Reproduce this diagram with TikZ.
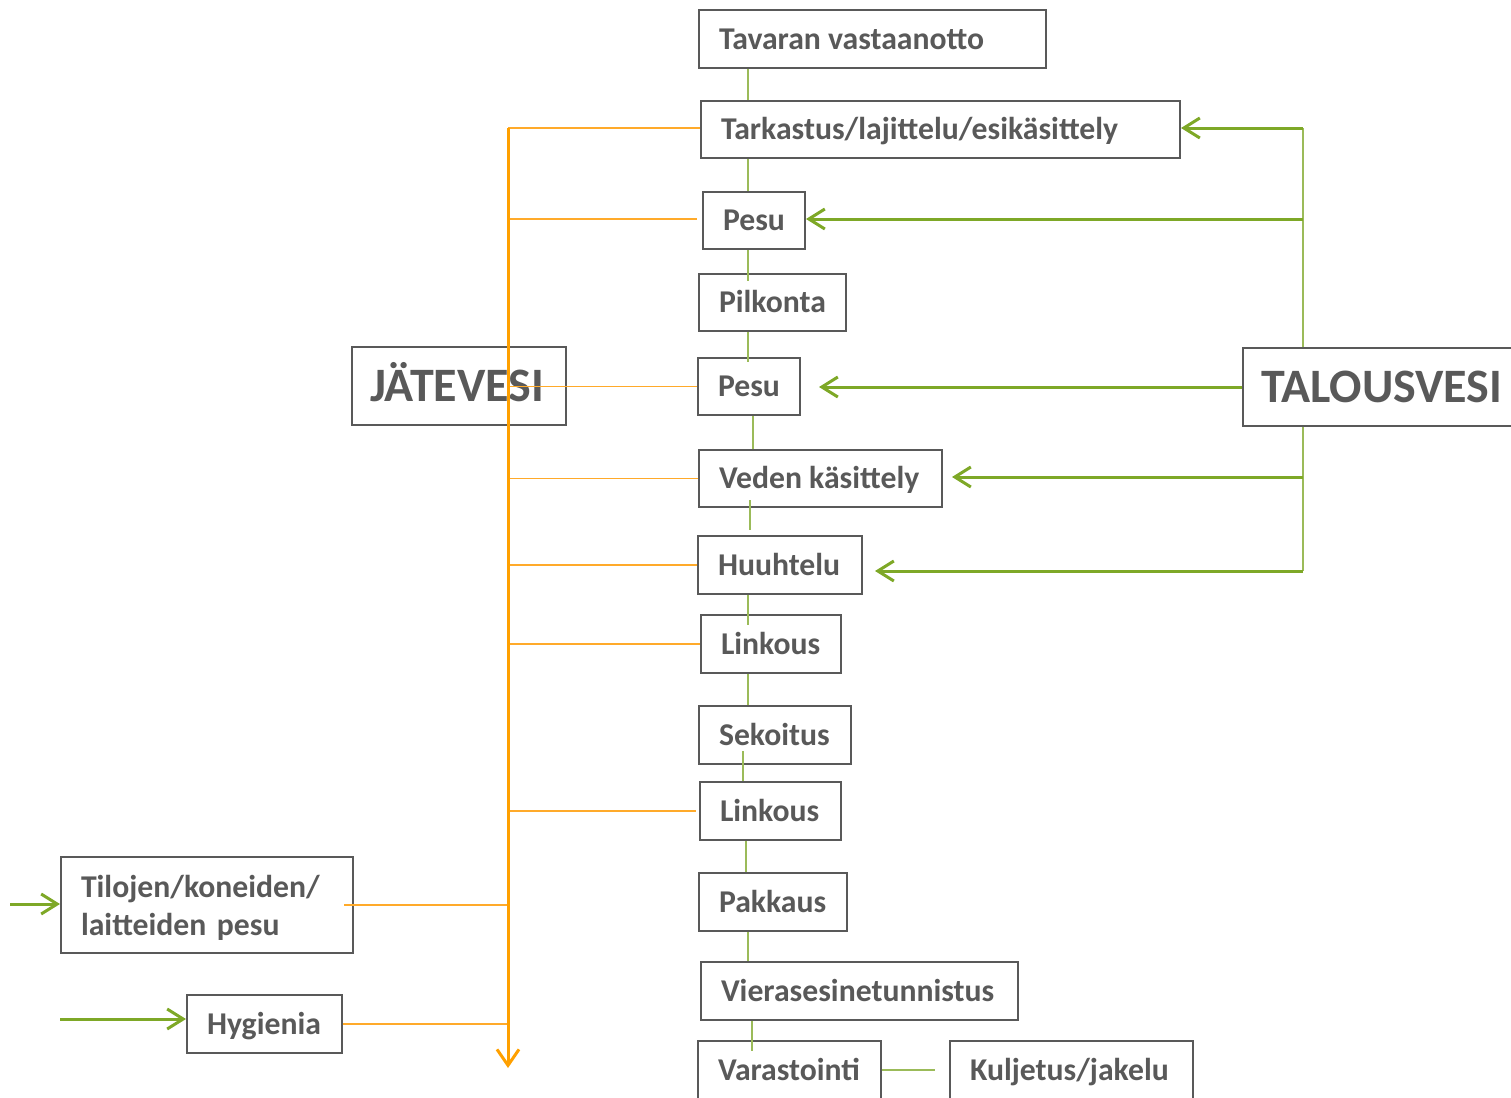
\documentclass[tikz,border=0pt]{standalone}
\usepackage{fontspec}
\setmainfont{Carlito}
\usetikzlibrary{arrows.meta,calc}
\definecolor{bgray}{HTML}{595959}
\definecolor{gthick}{HTML}{7EA827}
\definecolor{gthin}{HTML}{9BBB59}
\definecolor{obus}{HTML}{FFA000}
\definecolor{othin}{HTML}{FFAA2A}
\newcommand{\tx}[2]{\makebox[#1][l]{#2}}
\tikzset{
  bxbase/.style={draw=bgray, line width=2pt, text=bgray, font=\bfseries\fontsize{31.7}{38}\selectfont,
    anchor=north west, inner xsep=20pt, inner ysep=0pt, align=left},
  bx/.style={bxbase, text height=20.4pt, text depth=0pt},
  bigbx/.style={bxbase, inner xsep=18pt, font=\bfseries\fontsize{48}{54}\selectfont, text height=31pt, text depth=0pt},
  chain/.style={draw=gthin, line width=1.5pt},
  gbus/.style={draw=gthin, line width=1.6pt},
  garrow/.style={draw=gthick, line width=3pt, -{Straight Barb[length=16pt,width=20pt]}},
  obusline/.style={draw=obus, line width=3pt, -{Straight Barb[length=16pt,width=22pt]}},
  oline/.style={draw=othin, line width=1.5pt}
}
\begin{document}
\begin{tikzpicture}[x=1pt,y=-1pt]
\useasboundingbox (0,0) rectangle (1511,1097);
\clip (0,0) rectangle (1511,1097);
% process chain
\node[bx, minimum height=58pt] (tav) at (698,9) {\tx{307pt}{Tavaran vastaanotto}};
\node[bx, minimum height=57pt] (tar) at (700,100) {\tx{439pt}{Tarkastus/lajittelu/esikäsittely}};
\node[bx, minimum height=57pt] (pesua) at (702,191) {\tx{62pt}{Pesu}};
\node[bx, minimum height=57pt] (pil) at (698,273) {\tx{107pt}{Pilkonta}};
\node[bx, minimum height=57pt] (pesub) at (697,357) {\tx{62pt}{Pesu}};
\node[bx, minimum height=57pt] (ved) at (698,449) {\tx{203pt}{Veden käsittely}};
\node[bx, minimum height=58pt] (huu) at (697,535) {\tx{124pt}{Huuhtelu}};
\node[bx, minimum height=58pt] (lina) at (700,614) {\tx{100pt}{Linkous}};
\node[bx, minimum height=58pt] (sek) at (698,705) {\tx{112pt}{Sekoitus}};
\node[bx, minimum height=58pt] (linb) at (699,781) {\tx{101pt}{Linkous}};
\node[bx, minimum height=58pt] (pak) at (698,872) {\tx{108pt}{Pakkaus}};
\node[bx, minimum height=58pt] (vie) at (700,961) {\tx{277pt}{Vierasesinetunnistus}};
\node[bx, minimum height=58pt] (var) at (697,1040) {\tx{143pt}{Varastointi}};
\node[bx, minimum height=58pt] (kul) at (949,1040) {\tx{203pt}{Kuljetus/jakelu}};
% side boxes
\node[bigbx, minimum height=78pt] (jat) at (351,346) {\tx{178pt}{JÄTEVESI}};
\node[bigbx, minimum height=78pt] (tal) at (1242,347) {\tx{254pt}{TALOUSVESI}};
\node[bxbase, text width=252pt, minimum height=96pt] (til) at (60,856) {\rule{0pt}{28pt}Tilojen/koneiden/\\laitteiden pesu};
\node[bx, minimum height=58pt] (hyg) at (186,994) {\tx{115pt}{Hygienia}};
% chain connectors
\draw[chain] (748,0 |- tav.south) -- (748,0 |- tar.north);
\draw[chain] (748,0 |- tar.south) -- (748,0 |- pesua.north);
\draw[chain] (748,0 |- pesua.south) -- ($(748,0 |- pil.north)+(0,8)$);
\draw[chain] (748,0 |- pil.south) -- ($(748,0 |- pesub.north)+(0,5)$);
\draw[chain] (753,0 |- pesub.south) -- (753,0 |- ved.north);
\draw[chain] ($(750,0 |- ved.south)+(0,-8)$) -- ($(750,0 |- huu.north)+(0,-5)$);
\draw[chain] (748,0 |- huu.south) -- ($(748,0 |- lina.north)+(0,11)$);
\draw[chain] (748,0 |- lina.south) -- (748,0 |- sek.north);
\draw[chain] ($(743,0 |- sek.south)+(0,-14)$) -- (743,0 |- linb.north);
\draw[chain] (746,0 |- linb.south) -- (746,0 |- pak.north);
\draw[chain] (748,0 |- pak.south) -- (748,0 |- vie.north);
\draw[chain] (752,0 |- vie.south) -- ($(752,0 |- var.north)+(0,11)$);
\draw[chain] (var.east |- 0,1070) -- ($(kul.west |- 0,1070)+(-14,0)$);
% talousvesi supply
\coordinate (gt1) at (1303,128);
\coordinate (gt2) at (1303,219);
\coordinate (gt4) at (1303,477);
\coordinate (gt5) at (1303,571);
\draw[gbus] (tal.north -| gt1) -- (gt1);
\draw[gbus] (tal.south -| gt5) -- (gt5);
\draw[garrow] (gt1) -- (tar.east |- gt1);
\draw[garrow] (gt2) -- (pesua.east |- gt2);
\draw[garrow] (tal.west) -- ($(pesub.east |- tal.west)+(18,0)$);
\draw[garrow] (gt4) -- ($(ved.east |- gt4)+(9,0)$);
\draw[garrow] (gt5) -- ($(huu.east |- gt5)+(12,0)$);
\coordinate (gl1) at (10,904);
\coordinate (gl2) at (60,1019);
\draw[garrow] (gl1) -- (til.west |- gl1);
\draw[garrow] (gl2) -- (hyg.west |- gl2);
% jätevesi collection
\coordinate (jt) at (508,128);
\coordinate (jb) at (508,1068);
\draw[oline] (jt) -- (tar.west |- jt);
\draw[oline] (508,219) -- ($(pesua.west |- 0,219)+(-5,0)$);
\draw[oline] (508,0 |- pesub.west) -- (pesub.west);
\draw[oline] (508,0 |- ved.west) -- (ved.west);
\draw[oline] (508,0 |- huu.west) -- (huu.west);
\draw[oline] (508,0 |- lina.west) -- (lina.west);
\draw[oline] (508,0 |- linb.west) -- ($(linb.west)+(-3,0)$);
\draw[oline] ($(til.east)+(-10,0)$) -- (508,0 |- til.east);
\draw[oline] (hyg.east) -- (508,0 |- hyg.east);
\draw[obusline] (jt) -- (jb);
\end{tikzpicture}
\end{document}
